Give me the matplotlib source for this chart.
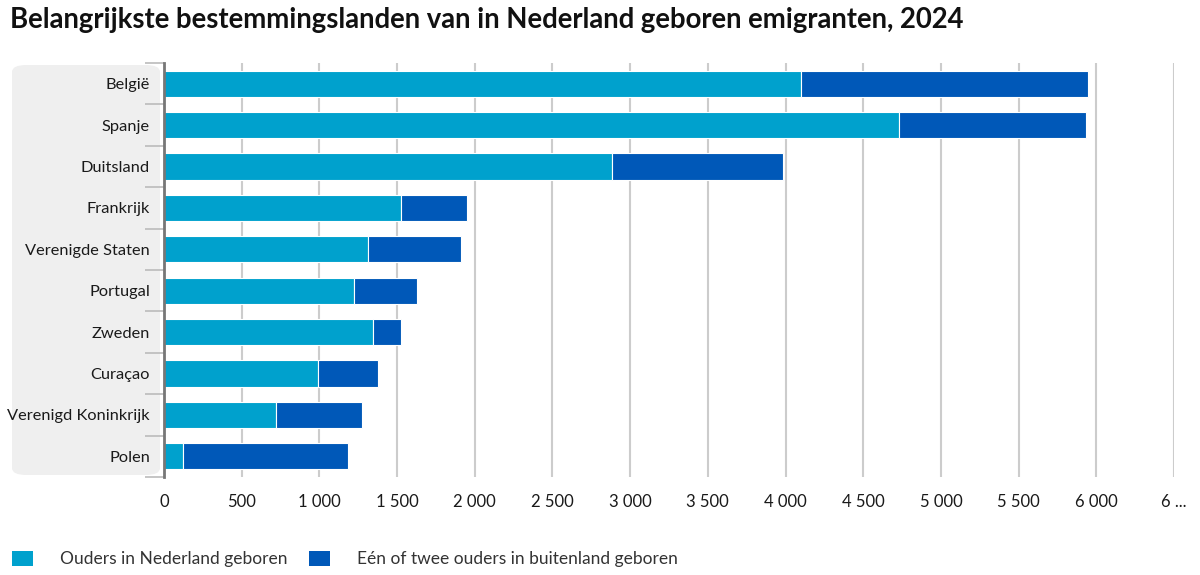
import matplotlib.pyplot as plt
import matplotlib.ticker as ticker
from matplotlib.patches import FancyBboxPatch, Patch
import numpy as np

landen = ["België", "Spanje", "Duitsland", "Frankrijk", "Verenigde Staten",
          "Portugal", "Zweden", "Curaçao", "Verenigd Koninkrijk", "Polen"]
ouders_nl = [4100, 4730, 2885, 1525, 1315, 1225, 1345, 990, 720, 120]
ouders_buitenland = [1845, 1205, 1100, 425, 595, 405, 180, 385, 555, 1065]

x_ticks = [0, 500, 1000, 1500, 2000, 2500, 3000, 3500, 4000, 4500, 5000, 5500, 6000, 6500]
x_labels = ["0", "500", "1 000", "1 500", "2 000", "2 500", "3 000", "3 500",
            "4 000", "4 500", "5 000", "5 500", "6 000", "6 ..."]

licht = "#00a1cd"
donker = "#0058b8"
plt.rcParams['font.family'] = ['Lato', 'DejaVu Sans']

fig = plt.figure(figsize=(12, 5.75), dpi=100)
ax = fig.add_axes([164 / 1200, 1 - 477 / 575, (1174 - 164) / 1200, (477 - 63) / 575])
ax.set_zorder(2)

# grijze achtergrond achter de labels
bg = FancyBboxPatch((12 / 1200, 1 - 475 / 575), (160 - 12) / 1200, (475 - 65) / 575,
                    boxstyle="round,pad=0,rounding_size=0.012",
                    transform=fig.transFigure, facecolor="#efefef", edgecolor="none", zorder=0)
fig.patches.append(bg)

y = np.arange(len(landen))
ax.barh(y, ouders_nl, height=0.63, color=licht, edgecolor="white", linewidth=0.8, zorder=3)
ax.barh(y, ouders_buitenland, left=ouders_nl, height=0.63, color=donker,
        edgecolor="white", linewidth=0.8, zorder=3)

ax.set_xlim(0, 6500)
ax.set_ylim(9.5, -0.5)
ax.set_facecolor("none")
ax.set_xticks(x_ticks)
ax.set_xticklabels(x_labels)
ax.grid(axis="x", color="#cccccc", linewidth=1.5, zorder=0)
ax.set_yticks(y)
ax.set_yticklabels(landen)
ax.yaxis.set_minor_locator(ticker.FixedLocator(np.arange(-0.5, 10, 1)))
ax.tick_params(axis="y", which="major", length=0, pad=10, labelsize=11.8, labelcolor="#1a1a1a")
ax.tick_params(axis="y", which="minor", length=14, width=1.2, color="#bbbbbb")
ax.tick_params(axis="x", length=0, pad=12, labelsize=12, labelcolor="#1a1a1a")

for s in ["top", "right", "bottom"]:
    ax.spines[s].set_visible(False)
ax.spines["left"].set_color("#777777")
ax.spines["left"].set_linewidth(2)
ax.spines["left"].set_zorder(4)

fig.text(10 / 1200, 1 - 20 / 575, "Belangrijkste bestemmingslanden van in Nederland geboren emigranten, 2024",
         fontsize=19.8, fontweight="bold", color="#111111", va="center", ha="left")

handles = [Patch(facecolor=licht, edgecolor="none"), Patch(facecolor=donker, edgecolor="none")]
fig.legend(handles, ["Ouders in Nederland geboren", "Eén of twee ouders in buitenland geboren"],
           loc="center left", bbox_to_anchor=(-2 / 1200, 1 - 559 / 575), ncol=2, frameon=False,
           fontsize=12.5, handlelength=1.2, handleheight=1.0, handletextpad=1.6, columnspacing=1.2,
           borderpad=0.3, labelcolor="#333333")

fig.savefig("out.png", dpi=100)
